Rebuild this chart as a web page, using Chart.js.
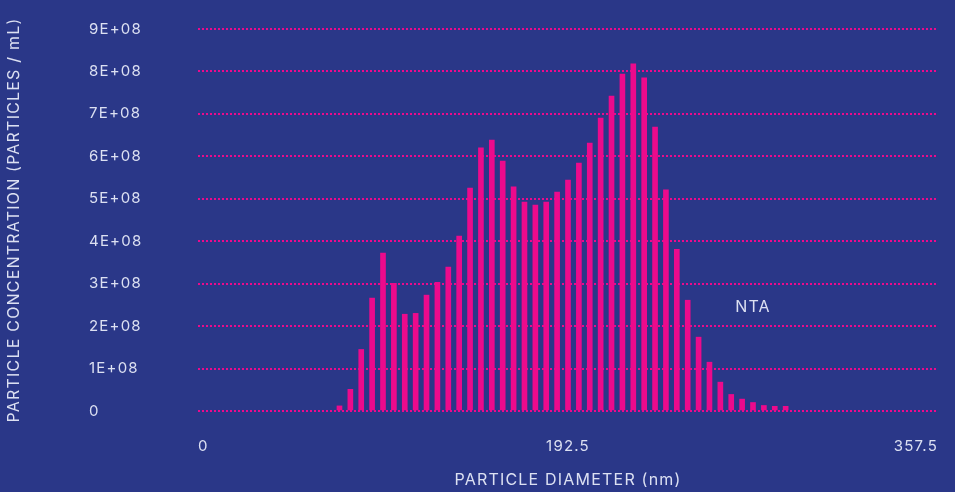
<!DOCTYPE html>
<html>
<head>
<meta charset="utf-8">
<script src="https://cdn.jsdelivr.net/npm/chart.js@4.4.1/dist/chart.umd.min.js"></script>
<style>
  html, body { margin: 0; padding: 0; background: #2A3788; }
  #wrap { width: 955px; height: 492px; position: relative; }
</style>
</head>
<body>
<div id="wrap"><canvas id="chart" width="955" height="492"></canvas></div>
<script>
// Series name and size-distribution values (particles / mL per diameter bin)
const seriesName = 'NTA';
const binCount = 69;          // number of diameter bins on the x axis
const firstFilledBin = 13;    // first bin that holds a measured value
const concentration = [
  1.2e7, 5.1e7, 1.45e8, 2.66e8, 3.72e8, 3.01e8, 2.28e8, 2.30e8, 2.73e8, 3.03e8,
  3.39e8, 4.12e8, 5.25e8, 6.20e8, 6.38e8, 5.89e8, 5.28e8, 4.92e8, 4.85e8, 4.92e8,
  5.16e8, 5.44e8, 5.84e8, 6.31e8, 6.90e8, 7.42e8, 7.94e8, 8.18e8, 7.85e8, 6.69e8,
  5.21e8, 3.81e8, 2.61e8, 1.74e8, 1.15e8, 6.8e7, 3.9e7, 2.8e7, 2.0e7, 1.3e7,
  1.1e7, 1.1e7
];
const yTickLabels = ['0', '1E+08', '2E+08', '3E+08', '4E+08', '5E+08', '6E+08', '7E+08', '8E+08', '9E+08'];
const xTickBins = [0, 34, 68];
const xTickLabels = ['0', '192.5', '357.5'];
const seriesLabelAt = { bin: 51, value: 2.45e8 };

const TEXT = '#DCE0F2';
const MAGENTA = '#EC0A8C';
const FONT = 'Inter, "DejaVu Sans", sans-serif';

// One value per bin; bins outside the measured range stay empty
const bins = [];
const values = [];
for (let i = 0; i < binCount; i++) {
  bins.push(String(i));
  const k = i - firstFilledBin;
  values.push(k >= 0 && k < concentration.length ? concentration[k] : null);
}

// Wide tracking for all canvas text
const trackingPlugin = {
  id: 'tracking',
  beforeDraw(chart) { chart.ctx.letterSpacing = '1.2px'; }
};

// Series name written inside the plot, placed through the scales
const seriesLabelPlugin = {
  id: 'seriesLabel',
  afterDatasetsDraw(chart) {
    const { ctx, scales: { x, y } } = chart;
    const px = x.getPixelForValue(seriesLabelAt.bin);
    const py = y.getPixelForValue(seriesLabelAt.value);
    ctx.save();
    ctx.font = '16px ' + FONT;
    ctx.fillStyle = TEXT;
    ctx.textAlign = 'center';
    ctx.textBaseline = 'middle';
    ctx.fillText(chart.data.datasets[0].label, px, py);
    ctx.restore();
  }
};

new Chart(document.getElementById('chart'), {
  type: 'bar',
  data: {
    labels: bins,
    datasets: [{
      label: seriesName,
      data: values,
      backgroundColor: MAGENTA,
      borderWidth: 0,
      barThickness: 5
    }]
  },
  options: {
    responsive: false,
    animation: false,
    devicePixelRatio: 1,
    layout: { padding: { left: 2, right: 17, top: 29, bottom: 2 } },
    plugins: {
      legend: { display: false },
      tooltip: { enabled: false }
    },
    scales: {
      x: {
        type: 'category',
        offset: false,
        grid: { display: false },
        border: { display: false },
        ticks: {
          autoSkip: false,
          maxRotation: 0,
          minRotation: 0,
          align: 'inner',
          padding: 18,
          color: TEXT,
          font: { family: FONT, size: 15 },
          callback: (v, i) => {
            const j = xTickBins.indexOf(i);
            return j >= 0 ? xTickLabels[j] : '';
          }
        },
        title: {
          display: true,
          text: 'PARTICLE DIAMETER (nm)',
          color: TEXT,
          font: { family: FONT, size: 16 },
          padding: { top: 4, bottom: 0 }
        },
        afterFit: (s) => { s.height = 79; s.paddingLeft = 0; s.paddingRight = 0; }
      },
      y: {
        min: 0,
        max: 9e8,
        weight: 0,
        grid: {
          color: MAGENTA,
          lineWidth: 2,
          drawTicks: false
        },
        border: { display: false, dash: [2, 2] },
        ticks: {
          stepSize: 1e8,
          crossAlign: 'far',
          color: TEXT,
          font: { family: FONT, size: 15 },
          callback: (v, i) => yTickLabels[i]
        },
        afterFit: (s) => { s.width = 109; }
      },
      // Outer left axis carrying only the vertical title
      yTitle: {
        type: 'linear',
        position: 'left',
        weight: 1,
        grid: { display: false },
        border: { display: false },
        ticks: { display: false },
        title: {
          display: true,
          text: 'PARTICLE CONCENTRATION (PARTICLES / mL)',
          color: TEXT,
          font: { family: FONT, size: 16 },
          padding: { top: 3, bottom: 0 }
        },
        afterFit: (s) => { s.width = 87; }
      }
    }
  },
  plugins: [trackingPlugin, seriesLabelPlugin]
});
</script>
</body>
</html>
